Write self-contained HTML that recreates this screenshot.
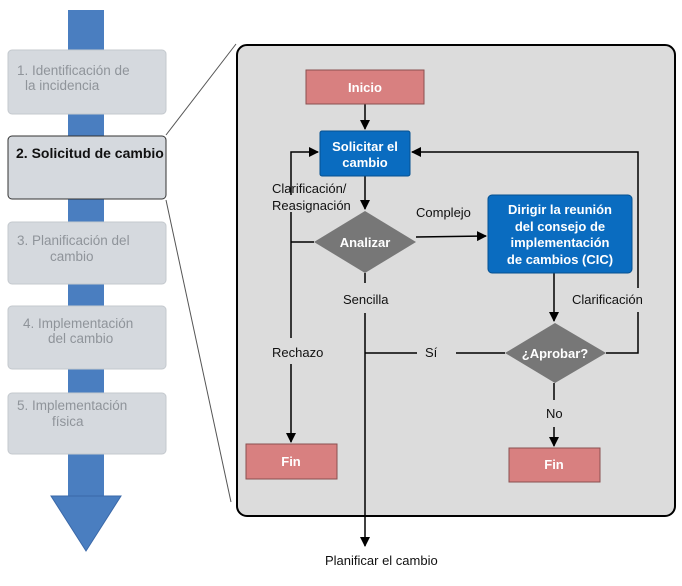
<!DOCTYPE html><html><head><style>body{margin:0;background:#fff}svg{display:block}text{font-family:"Liberation Sans",sans-serif}</style></head><body>
<svg width="682" height="586" viewBox="0 0 682 586" xmlns="http://www.w3.org/2000/svg">
<defs><marker id="a" markerWidth="10" markerHeight="10" refX="9" refY="5" orient="auto" markerUnits="userSpaceOnUse"><path d="M0,0 L10,5 L0,10z" fill="#000"/></marker></defs>
<rect x="68" y="10" width="36" height="488" fill="#4a7ec0"/>
<path d="M51,496 L121,496 L86,551z" fill="#4a7ec0" stroke="#3a68a8"/>
<g fill="#d5d9de" stroke="#c4c9ce">
<rect x="8" y="50" width="158" height="64" rx="4"/>
<rect x="8" y="222" width="158" height="62" rx="4"/>
<rect x="8" y="306" width="158" height="63" rx="4"/>
<rect x="8" y="393" width="158" height="61" rx="4"/>
</g>
<rect x="8" y="136" width="158" height="63" rx="4" fill="#d5d9de" stroke="#333"/>
<g font-size="13.5" fill="#8f949a">
<text x="17" y="75">1. Identificación de</text><text x="25" y="90">la incidencia</text>
<text x="17" y="245">3. Planificación del</text><text x="50" y="261">cambio</text>
<text x="23" y="328">4.  Implementación</text><text x="48" y="343">del cambio</text>
<text x="17" y="410">5. Implementación</text><text x="52" y="426">física</text>
</g>
<text x="16" y="158" font-size="14" font-weight="bold" fill="#111">2. Solicitud de cambio</text>
<line x1="166" y1="135" x2="236" y2="44" stroke="#555"/>
<line x1="166" y1="200" x2="231" y2="502" stroke="#555"/>
<rect x="237" y="45" width="438" height="471" rx="10" fill="#dcdcdc" stroke="#000" stroke-width="2"/>
<g stroke="#000" stroke-width="1.5" fill="none">
<line x1="365" y1="104" x2="365" y2="129" marker-end="url(#a)"/>
<line x1="365" y1="176" x2="365" y2="209" marker-end="url(#a)"/>
<polyline points="291,195 291,152 318,152" marker-end="url(#a)"/>
<line x1="291" y1="212" x2="291" y2="338"/>
<line x1="291" y1="364" x2="291" y2="442" marker-end="url(#a)"/>
<line x1="291" y1="242" x2="314" y2="242"/>
<polyline points="606,353 638,353 638,312"/>
<polyline points="638,288 638,152 412,152" marker-end="url(#a)"/>
<line x1="416" y1="237" x2="486" y2="236" marker-end="url(#a)"/>
<line x1="554" y1="273" x2="554" y2="321" marker-end="url(#a)"/>
<line x1="554" y1="383" x2="554" y2="400"/>
<line x1="554" y1="427" x2="554" y2="446" marker-end="url(#a)"/>
<line x1="365" y1="273" x2="365" y2="283"/>
<line x1="365" y1="313" x2="365" y2="546" marker-end="url(#a)"/>
<line x1="365" y1="353" x2="417" y2="353"/>
<line x1="456" y1="353" x2="505" y2="353"/>
</g>
<rect x="306" y="70" width="118" height="34" fill="#d88080" stroke="#8a5050"/>
<rect x="320" y="131" width="90" height="45" rx="2" fill="#0a6cc0" stroke="#05508f"/>
<rect x="488" y="195" width="144" height="78" rx="4" fill="#0a6cc0" stroke="#05508f"/>
<path d="M365,211 L416,242 L365,273 L314,242z" fill="#777"/>
<path d="M555,323 L606,353 L555,383 L505,353z" fill="#777"/>
<rect x="246" y="444" width="91" height="35" fill="#d88080" stroke="#8a5050"/>
<rect x="509" y="448" width="91" height="34" fill="#d88080" stroke="#8a5050"/>
<g font-size="13" font-weight="bold" fill="#fff" text-anchor="middle">
<text x="365" y="92">Inicio</text>
<text x="365" y="151">Solicitar el</text><text x="365" y="167">cambio</text>
<text x="560" y="214">Dirigir la reunión</text><text x="560" y="231">del consejo de</text><text x="560" y="247">implementación</text><text x="560" y="264">de cambios (CIC)</text>
<text x="365" y="247">Analizar</text>
<text x="555" y="358">¿Aprobar?</text>
<text x="291" y="466">Fin</text>
<text x="554" y="469">Fin</text>
</g>
<g font-size="13" fill="#111">
<text x="272" y="193">Clarificación/</text><text x="272" y="210">Reasignación</text>
<text x="416" y="217">Complejo</text>
<text x="343" y="304">Sencilla</text>
<text x="572" y="304">Clarificación</text>
<text x="272" y="357">Rechazo</text>
<text x="425" y="357">Sí</text>
<text x="546" y="418">No</text>
<text x="325" y="565">Planificar el cambio</text>
</g>
</svg></body></html>
